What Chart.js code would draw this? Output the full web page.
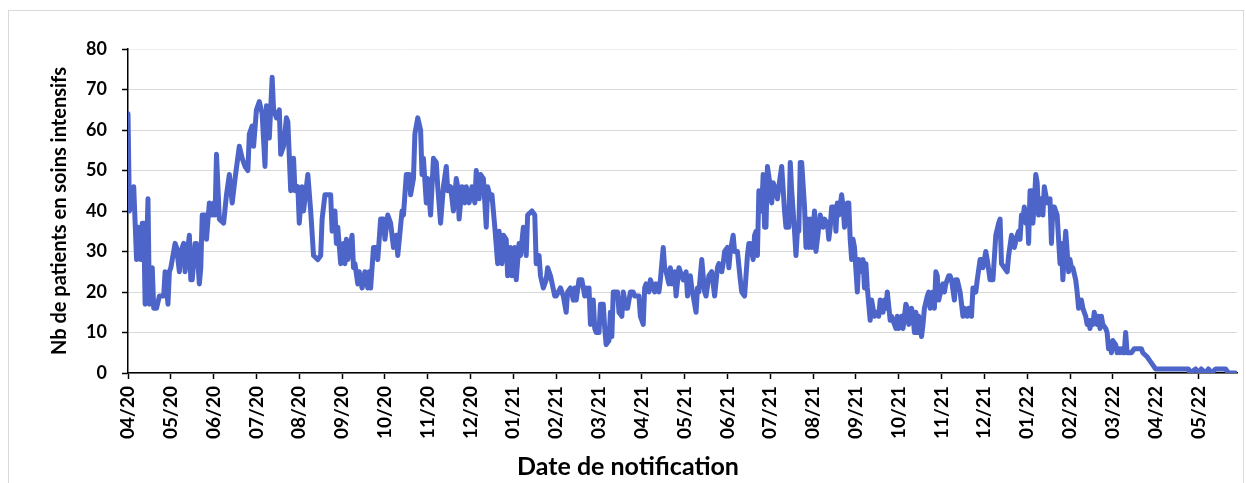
<!DOCTYPE html>
<html lang="fr">
<head>
<meta charset="utf-8">
<title>Nb de patients en soins intensifs</title>
<script src="https://cdn.jsdelivr.net/npm/chart.js@4.4.1/dist/chart.umd.min.js"></script>
<style>
    html, body {margin: 0; padding: 0; background: #fff; overflow: hidden}
    #frame {position: absolute; left: 8px; top: 10px; width: 1234px; height: 500px; border: 1px solid #d9d9d9}
    #chart {position: absolute; left: 0; top: 0}
</style>
</head>
<body>
<div id="frame"></div>
<canvas id="chart" width="1246" height="483"></canvas>
<script>
// day index (0 = first day of the series) and patients in intensive care that day
const days = [
    0, 1, 4, 6, 7, 9, 10, 11, 12, 14, 15, 17, 18, 20, 22, 25, 26, 28, 29, 30,
    33, 34, 36, 37, 39, 40, 43, 44, 45, 47, 48, 50, 51, 52, 54, 55, 57, 59, 60, 61,
    62, 64, 67, 69, 71, 73, 75, 78, 80, 82, 84, 85, 87, 88, 90, 92, 94, 96, 97, 99,
    101, 102, 104, 106, 107, 109, 111, 112, 114, 116, 117, 119, 120, 122, 123, 126, 128, 130,
    133, 135, 136, 138, 140, 142, 143, 145, 146, 147, 149, 151, 152, 153, 154, 157, 158, 159,
    161, 162, 164, 166, 168, 169, 170, 172, 174, 175, 177, 179, 180, 182, 184, 186, 188, 189,
    192, 193, 195, 197, 198, 200, 201, 203, 205, 206, 207, 209, 210, 212, 214, 216, 217, 219,
    221, 223, 224, 226, 228, 230, 231, 232, 234, 236, 237, 239, 241, 243, 244, 246, 247, 249,
    251, 252, 254, 255, 257, 259, 260,
    262, 263, 265, 266, 268, 269, 271, 272, 274, 275, 277, 279, 280, 283, 285, 286, 288, 289,
    291, 293, 294, 296, 299, 300, 303, 305, 307, 308, 310, 312, 313, 314, 316, 318, 320, 321,
    322, 323, 324, 326, 327,
    328, 330, 331, 333, 334, 335, 337, 338, 339, 340, 342, 343, 344, 346, 347, 349, 350, 352,
    354, 355, 357, 358, 359, 361, 362, 363, 365, 366, 367, 369, 370, 372, 373, 375, 376, 377,
    379, 380, 381, 383, 384, 386, 387, 389, 391, 392, 394,
    395, 396, 398, 399, 400, 401, 402, 404, 405, 407, 409, 411, 413, 414, 416, 417, 418, 420,
    421, 422, 424, 425, 427, 429, 430, 432, 434, 435, 436, 438, 439, 440, 441, 442, 444, 445,
    446, 447, 448, 450, 451, 452, 454, 455, 456, 458, 460,
    461, 463, 464, 465, 467, 468, 469, 470, 471, 472, 474, 475, 476, 477, 478, 479, 481, 482,
    484, 485, 487, 488, 490, 491, 492, 493, 495, 496, 497, 498, 500, 501, 502, 504, 505, 506,
    507, 508, 509, 511, 512, 513, 515, 516, 517, 518, 520, 521, 523, 525, 526, 527,
    529, 530, 531, 532, 534, 535, 537, 538, 539, 540, 542, 543, 545, 546, 547, 549, 550, 551,
    552, 553, 554, 556, 557, 558, 560, 561, 562, 564, 565, 566, 567, 568, 570, 571, 572, 573,
    575, 576, 577, 579, 580, 581, 583, 585, 586, 588, 589, 591, 592, 594, 595,
    597, 598, 599, 601, 602, 604, 606, 608, 610, 611, 612, 614, 616, 617, 619, 620, 621, 623,
    624, 625, 626, 627, 628, 629, 630, 631, 632, 633, 634, 635, 636, 637, 638, 640, 641, 642,
    643, 644, 646, 647, 648, 649, 650, 651, 653, 654, 655, 656, 657, 659,
    660, 661, 662, 664, 665, 666, 667, 668, 669, 671, 672, 673, 674, 675, 676, 677, 679, 680,
    681, 682, 683, 685, 686, 687, 688, 689, 690, 692, 693, 694, 695, 696, 697, 698, 699, 700,
    702, 703, 705, 708, 710, 711, 714, 716, 718, 720,
    743, 744, 748, 750, 752, 755, 757, 759, 762, 764, 766, 769, 771, 776
];
const patients = [
    64, 40, 46, 28, 36, 28, 37, 37, 17, 43, 17, 26, 16, 16, 19, 19, 25, 17, 25, 26,
    32, 31, 25, 30, 32, 25, 34, 23, 23, 32, 32, 22, 26, 39, 39, 33, 42, 39, 42, 39,
    54, 38, 37, 44, 49, 42, 48, 56, 53, 51, 50, 59, 61, 56, 65, 67, 64, 51, 66, 58,
    73, 65, 63, 65, 54, 56, 63, 62, 45, 53, 45, 46, 37, 46, 40, 49, 40, 29,
    28, 29, 38, 44, 44, 44, 35, 40, 32, 36, 27, 32, 27, 33, 28, 34, 26, 27,
    22, 25, 21, 25, 21, 25, 21, 31, 31, 28, 38, 38, 33, 39, 37, 31, 34, 29,
    40, 39, 49, 49, 44, 48, 59, 63, 60, 49, 53, 42, 48, 39, 53, 52, 46, 37,
    46, 51, 45, 46, 40, 48, 46, 38, 46, 42, 46, 42, 46, 42, 50, 43, 49, 48,
    36, 46, 43, 44, 36, 27, 35,
    27, 34, 33, 24, 31, 24, 31, 23, 32, 29, 36, 29, 39, 40, 39, 27, 29, 24,
    21, 23, 26, 24, 19, 19, 21, 19, 15, 20, 21, 18, 21, 18, 23, 23, 19, 21,
    19, 21, 12, 18, 11,
    10, 10, 17, 17, 11, 7, 8, 15, 9, 20, 20, 20, 15, 14, 20, 16, 16, 20,
    20, 19, 19, 19, 14, 12, 21, 22, 20, 23, 22, 20, 22, 20, 23, 31, 26, 25,
    22, 26, 22, 25, 19, 26, 25, 23, 25, 19, 24,
    21, 19, 15, 21, 20, 24, 28, 20, 19, 24, 25, 19, 26, 27, 25, 27, 30, 31,
    26, 30, 34, 30, 30, 23, 20, 19, 29, 32, 32, 28, 34, 35, 29, 45, 40, 49,
    36, 36, 51, 46, 42, 47, 45, 43, 46, 51, 40,
    36, 36, 52, 45, 35, 29, 35, 35, 52, 52, 41, 31, 38, 31, 38, 31, 40, 30,
    36, 39, 36, 38, 37, 33, 36, 41, 41, 35, 42, 39, 44, 41, 36, 42, 42, 33,
    28, 33, 31, 20, 28, 25, 28, 21, 27, 21, 13, 18, 14, 15, 14, 18,
    15, 18, 16, 20, 13, 14, 12, 11, 14, 11, 14, 11, 17, 16, 12, 16, 14, 10,
    15, 10, 14, 9, 12, 16, 19, 20, 16, 20, 16, 25, 24, 18, 21, 22, 20, 22,
    24, 24, 23, 18, 23, 23, 20, 14, 16, 14, 16, 14, 21, 20, 23,
    28, 28, 26, 30, 28, 23, 23, 34, 37, 38, 27, 26, 25, 29, 34, 33, 31, 34,
    35, 33, 39, 38, 41, 37, 40, 32, 45, 45, 37, 42, 49, 47, 39, 43, 39, 46,
    44, 42, 43, 32, 41, 41, 40, 39, 27, 32, 23, 30, 35, 25,
    28, 26, 26, 23, 20, 16, 18, 18, 16, 14, 12, 13, 11, 13, 12, 15, 12, 14,
    11, 14, 12, 11, 10, 6, 7, 5, 8, 7, 5, 6, 5, 6, 5, 5, 10, 5,
    5, 5, 6, 6, 6, 5, 4, 3, 2, 1,
    1, 0, 1, 0, 1, 0, 1, 0, 1, 1, 1, 1, 0, 0
];
// one label every 30 days
const tickLabels = [
    '04/20', '05/20', '06/20', '07/20', '08/20', '09/20', '10/20', '11/20', '12/20',
    '01/21', '02/21', '03/21', '04/21', '05/21', '06/21', '07/21', '08/21', '09/21',
    '10/21', '11/21', '12/21', '01/22', '02/22', '03/22', '04/22', '05/22'
];
const yTicks    = [0, 10, 20, 30, 40, 50, 60, 70, 80];
const tickStep  = 30;
const lastDay   = 777;
const yTitle    = 'Nb de patients en soins intensifs';
const xTitle    = 'Date de notification';

const FONT      = 'Lato, "Open Sans", "Liberation Sans", sans-serif';
const INK       = '#000';
const GRID      = '#d9d9d9';
const LINE      = '#4d65c8';

const points = days.map((d, i) => ({x: d, y: patients[i]}));

new Chart(document.getElementById('chart'), {
    type: 'line',
    data: {
        datasets: [{
            data           : points,
            borderColor    : LINE,
            borderWidth    : 5,
            borderJoinStyle: 'round',
            borderCapStyle : 'round',
            pointRadius    : 0,
            tension        : 0,
            fill           : false
        }]
    },
    options: {
        responsive      : false,
        animation       : false,
        devicePixelRatio: 1,
        layout          : {padding: {left: 19, right: 9, top: 49, bottom: 0}},
        plugins: {
            legend : {display: false},
            tooltip: {enabled: false},
            title  : {
                display : true,
                position: 'bottom',
                text    : xTitle,
                color   : INK,
                font    : {family: FONT, size: 25, weight: 'bold', lineHeight: 1.2},
                padding : {top: 0, bottom: 1}
            }
        },
        scales: {
            x: {
                type: 'linear',
                min : 0,
                max : lastDay,
                afterBuildTicks: scale => {
                    scale.ticks = tickLabels.map((l, i) => ({value: i * tickStep}));
                },
                afterFit: scale => {
                    scale.height       = 79;
                    scale.paddingLeft  = 0;
                    scale.paddingRight = 0;
                },
                border: {color: INK, width: 1.5},
                grid  : {drawOnChartArea: false, drawTicks: true, tickLength: 6, tickColor: INK, tickWidth: 1.5},
                ticks : {
                    autoSkip   : false,
                    minRotation: 90,
                    maxRotation: 90,
                    padding    : 7,
                    color      : INK,
                    font       : {family: FONT, size: 19, weight: 'bold'},
                    callback   : (v, i) => tickLabels[i]
                }
            },
            y: {
                min: 0,
                max: 80,
                afterBuildTicks: scale => {
                    scale.ticks = yTicks.map(v => ({value: v}));
                },
                afterFit: scale => {scale.width = 109},
                border: {color: INK, width: 1.5},
                grid  : {
                    color     : ctx => ctx.tick && ctx.tick.value === 80 ? '#ededed' : GRID,
                    lineWidth : 1,
                    drawTicks : true,
                    tickLength: 6,
                    tickColor : INK,
                    tickWidth : 1.5
                },
                ticks : {
                    padding: 15,
                    color  : INK,
                    font   : {family: FONT, size: 18, weight: 'bold'}
                },
                title : {
                    display: true,
                    text   : yTitle,
                    color  : INK,
                    font   : {family: FONT, size: 20, weight: 'bold', lineHeight: 1.2},
                    padding: {top: 29, bottom: 0}
                }
            }
        }
    }
});
</script>
</body>
</html>
